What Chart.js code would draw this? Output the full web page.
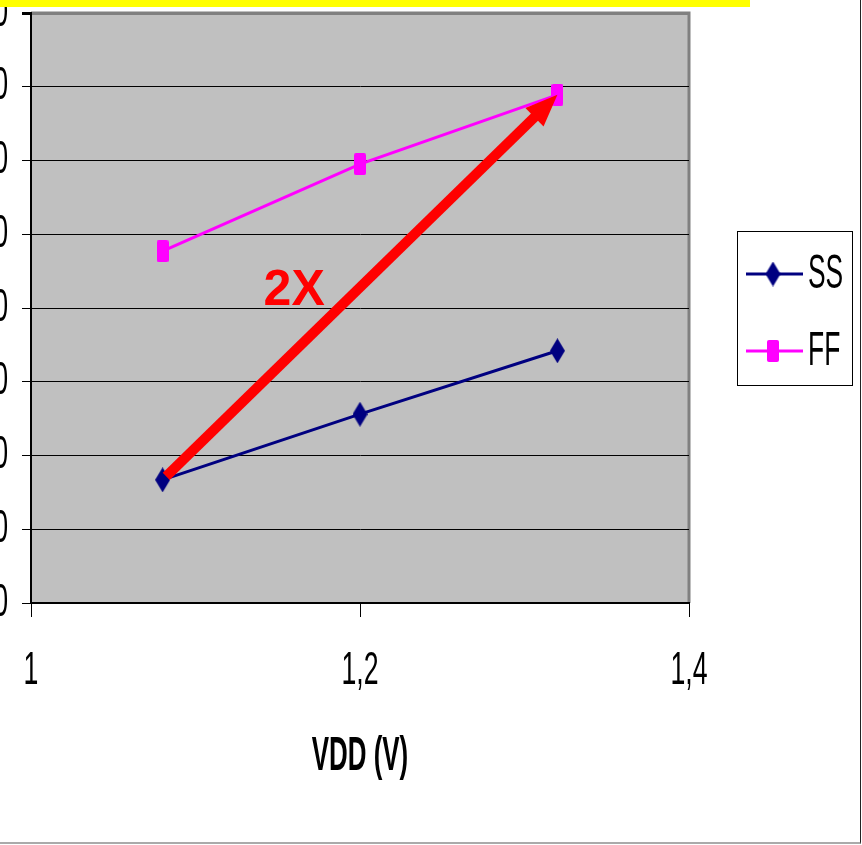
<!DOCTYPE html>
<html>
<head>
<meta charset="utf-8">
<script src="https://cdn.jsdelivr.net/npm/chart.js@4/dist/chart.umd.min.js"></script>
<style>
  body { margin: 0; background: #fff; overflow: hidden; }
  #wrap { position: relative; width: 862px; height: 845px; overflow: hidden; }
  #chart { position: absolute; left: -40px; top: 0; }
  #bar { position: absolute; left: 0; top: 0; width: 750px; height: 7px; background: #ffff00; z-index: 2; }
  #frame { position: absolute; left: 0; top: 0; width: 860px; height: 842px;
           border-right: 1px solid #222; border-bottom: 2px solid #aaa; z-index: 2; pointer-events: none; }
</style>
</head>
<body>
<div id="wrap">
  <canvas id="chart" width="902" height="845"></canvas>
  <div id="bar"></div>
  <div id="frame"></div>
</div>
<script>
// data
const vdd = [1.08, 1.2, 1.32];
const ssValues = [16.7, 25.6, 34.2];
const ffValues = [47.7, 59.5, 68.9];
const seriesNames = ['SS', 'FF'];
const xTicks = [1, 1.2, 1.4];
const yMin = 0, yMax = 80, yStep = 10;
const xTitle = 'VDD (V)';
const arrowLabel = '2X';
const arrowLabelPos = { x: 1.16, y: 42.3 };

const SANS = '"Liberation Sans", Arial, sans-serif';
const NAVY = '#000080';
const PINK = '#ff00ff';

const fmtX = (v) => String(+v.toFixed(1)).replace('.', ',');

function diamond(w, h, color) {
    const c = document.createElement('canvas');
    c.width = w; c.height = h;
    const g = c.getContext('2d');
    g.fillStyle = color;
    g.beginPath();
    g.moveTo(w / 2, 0);
    g.lineTo(w, h / 2);
    g.lineTo(w / 2, h);
    g.lineTo(0, h / 2);
    g.closePath();
    g.fill();
    return c;
}

function block(w, h, color) {
    const c = document.createElement('canvas');
    c.width = w; c.height = h;
    const g = c.getContext('2d');
    g.fillStyle = color;
    g.beginPath();
    g.roundRect(0, 0, w, h, 2);
    g.fill();
    return c;
}

// the original text is squeezed sideways, so draw it scaled in x
function narrowText(ctx, text, x, y, font, sx, align) {
    ctx.save();
    ctx.translate(x, y);
    ctx.scale(sx, 1);
    ctx.font = font;
    ctx.fillStyle = '#000';
    ctx.textAlign = align;
    ctx.textBaseline = 'middle';
    ctx.fillText(text, 0, 0);
    ctx.restore();
}

const ssMarker = diamond(15, 25, NAVY);
const ffMarker = block(12, 22, PINK);

const plotBackground = {
    id: 'plotBackground',
    beforeDraw(chart) {
        const { ctx, chartArea: a } = chart;
        ctx.save();
        ctx.fillStyle = '#c0c0c0';
        ctx.fillRect(a.left, a.top, a.right - a.left, a.bottom - a.top);
        ctx.strokeStyle = '#808080';
        ctx.lineWidth = 3;
        ctx.beginPath();
        ctx.moveTo(a.left, a.top);
        ctx.lineTo(a.right, a.top);
        ctx.lineTo(a.right, a.bottom);
        ctx.stroke();
        ctx.restore();
    }
};

const axisText = {
    id: 'axisText',
    afterDraw(chart) {
        const { ctx, scales: { x, y }, chartArea: a } = chart;
        const tickFont = '46px ' + SANS;
        x.ticks.forEach(t => narrowText(ctx, fmtX(t.value), x.getPixelForValue(t.value), 671, tickFont, 0.58, 'center'));
        y.ticks.forEach(t => narrowText(ctx, String(t.value), a.left - 23, y.getPixelForValue(t.value), tickFont, 0.58, 'right'));
        narrowText(ctx, xTitle, (a.left + a.right) / 2, 757, 'bold 48px ' + SANS, 0.54, 'center');
    }
};

const arrow = {
    id: 'arrow',
    afterDatasetsDraw(chart) {
        const { ctx, scales: { x, y } } = chart;
        let x0 = x.getPixelForValue(vdd[0]), y0 = y.getPixelForValue(ssValues[0]);
        const x1 = x.getPixelForValue(vdd[2]), y1 = y.getPixelForValue(ffValues[2]);
        const ang = Math.atan2(y1 - y0, x1 - x0);
        x0 += Math.cos(ang) * 5; y0 += Math.sin(ang) * 5;
        const headLen = 32, headW = 13;
        const bx = x1 - Math.cos(ang) * headLen, by = y1 - Math.sin(ang) * headLen;
        ctx.save();
        ctx.strokeStyle = '#ff0000';
        ctx.fillStyle = '#ff0000';
        ctx.lineWidth = 10;
        ctx.beginPath();
        ctx.moveTo(x0, y0);
        ctx.lineTo(bx + Math.cos(ang) * 4, by + Math.sin(ang) * 4);
        ctx.stroke();
        ctx.beginPath();
        ctx.moveTo(x1, y1);
        ctx.lineTo(bx + Math.sin(ang) * headW, by - Math.cos(ang) * headW);
        ctx.lineTo(bx - Math.sin(ang) * headW, by + Math.cos(ang) * headW);
        ctx.closePath();
        ctx.fill();
        ctx.font = 'bold 50px ' + SANS;
        ctx.textAlign = 'center';
        ctx.textBaseline = 'middle';
        ctx.fillText(arrowLabel, x.getPixelForValue(arrowLabelPos.x), y.getPixelForValue(arrowLabelPos.y));
        ctx.restore();
    }
};

const boxLegend = {
    id: 'boxLegend',
    afterDraw(chart) {
        const ctx = chart.ctx;
        const left = 777, top = 231, w = 115, h = 154;
        ctx.save();
        ctx.strokeStyle = '#000';
        ctx.lineWidth = 1;
        ctx.strokeRect(left + 0.5, top + 0.5, w, h);
        const rows = [274, 351];
        chart.data.datasets.forEach((ds, i) => {
            const cy = rows[i];
            ctx.strokeStyle = ds.borderColor;
            ctx.lineWidth = 3;
            ctx.beginPath();
            ctx.moveTo(786, cy);
            ctx.lineTo(843, cy);
            ctx.stroke();
            const img = ds.pointStyle;
            ctx.drawImage(img, 813 - img.width / 2, cy - img.height / 2);
            narrowText(ctx, ds.label, 848, cy + 1, '48px ' + SANS, 0.55, 'left');
        });
        ctx.restore();
    }
};

new Chart(document.getElementById('chart'), {
    type: 'line',
    data: {
        datasets: [
            {
                label: seriesNames[0],
                data: vdd.map((v, i) => ({ x: v, y: ssValues[i] })),
                borderColor: NAVY,
                backgroundColor: NAVY,
                borderWidth: 3,
                pointStyle: ssMarker,
                tension: 0
            },
            {
                label: seriesNames[1],
                data: vdd.map((v, i) => ({ x: v, y: ffValues[i] })),
                borderColor: PINK,
                backgroundColor: PINK,
                borderWidth: 3,
                pointStyle: ffMarker,
                tension: 0
            }
        ]
    },
    options: {
        responsive: false,
        animation: false,
        devicePixelRatio: 1,
        layout: { padding: { top: 13, right: 173, left: 0, bottom: 55 } },
        plugins: {
            legend: { display: false },
            tooltip: { enabled: false }
        },
        scales: {
            x: {
                type: 'linear',
                min: xTicks[0],
                max: xTicks[xTicks.length - 1],
                afterBuildTicks: (s) => { s.ticks = xTicks.map(v => ({ value: v })); },
                afterFit: (s) => { s.height = 187; s.paddingLeft = 0; s.paddingRight = 0; },
                grid: { drawOnChartArea: false, tickLength: 14, color: '#000', lineWidth: 1 },
                border: { color: '#000', width: 2 },
                ticks: { display: false }
            },
            y: {
                min: yMin,
                max: yMax,
                afterFit: (s) => { s.width = 71; s.paddingTop = 0; s.paddingBottom = 0; },
                grid: {
                    tickLength: 9,
                    tickColor: '#000',
                    color: (c) => c.tick && c.tick.value === yMax ? '#808080' : '#000',
                    lineWidth: (c) => c.tick && c.tick.value === yMax ? 3 : 1
                },
                border: { color: '#000', width: 2 },
                ticks: { display: false, stepSize: yStep }
            }
        }
    },
    plugins: [plotBackground, arrow, axisText, boxLegend]
});
</script>
</body>
</html>
